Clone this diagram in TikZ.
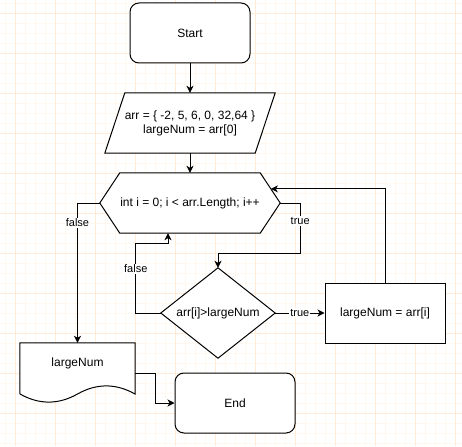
\documentclass[tikz,border=0pt]{standalone}
\usepackage{fontspec}
\setmainfont{Liberation Sans}
\usetikzlibrary{arrows.meta,calc}
\definecolor{gmajor}{RGB}{255,236,214}
\definecolor{gminor}{RGB}{255,248,238}
\begin{document}
\begin{tikzpicture}[x=1pt,y=-1pt,
  every node/.style={font=\fontsize{12}{14}\selectfont},
  shapebox/.style={minimum width=120pt, minimum height=60pt, inner sep=0pt, align=center},
  flow/.style={draw, line width=1pt, -{Stealth[length=7pt,width=7pt,inset=2pt]}},
  outline/.style={draw, line width=1pt},
  lbl/.style={fill=white, inner sep=1pt, font=\fontsize{11}{13}\selectfont}
]
\useasboundingbox (0,0) rectangle (462,446);
\fill[white] (0,0) rectangle (462,446);
% background grid
\foreach \x in {5,15,...,455} \draw[gminor, line width=0.4pt] (\x,0) -- (\x,446);
\foreach \y in {3,13,...,443} \draw[gminor, line width=0.4pt] (0,\y) -- (462,\y);
\foreach \x in {15,55,...,455} \draw[gmajor, line width=0.6pt] (\x,0) -- (\x,446);
\foreach \y in {13,53,...,413} \draw[gmajor, line width=0.6pt] (0,\y) -- (462,\y);

% nodes
\node[shapebox, outline, fill=white, rounded corners=9pt] (start) at (190,33) {Start};
\node[shapebox, minimum width=170pt] (para) at (190,123) {};
\draw[outline, fill=white] ([xshift=20pt]para.north west) -- (para.north east) -- ([xshift=-20pt]para.south east) -- (para.south west) -- cycle;
\node[align=center] (paratext) at (para.center) {arr = \{ -2, 5, 6, 0, 32,64 \}\\largeNum = arr[0]};

\node[shapebox, minimum width=180pt] (hex) at (190,203) {};
\draw[outline, fill=white] (hex.west) -- ([xshift=20pt]hex.north west) -- ([xshift=-20pt]hex.north east) -- (hex.east) -- ([xshift=-20pt]hex.south east) -- ([xshift=20pt]hex.south west) -- cycle;
\node (hextext) at (hex.center) {int i = 0; i < arr.Length; i++};

\node[shapebox, minimum width=114pt, minimum height=90pt] (dia) at (218,313) {};
\draw[outline, fill=white] (dia.north) -- (dia.east) -- (dia.south) -- (dia.west) -- cycle;
\node (diatext) at (dia.center) {arr[i]>largeNum};

\node[shapebox, outline, fill=white] (rect) at (385,313) {largeNum = arr[i]};

\node[shapebox, minimum width=115pt] (doc) at (77.5,373) {};
\draw[outline, fill=white] (doc.north west) -- (doc.north east) -- (135,394)
  .. controls (115.83,383.2) and (96.67,383.2) .. (77.5,394)
  .. controls (58.33,404.8) and (39.17,404.8) .. (20,394) -- cycle;
\node (doctext) at (77.5,363) {largeNum};

\node[shapebox, outline, fill=white, rounded corners=9pt] (end) at (235,403) {End};

% connectors
\draw[flow] (start.south) -- (para.north);
\draw[flow] (para.south) -- (hex.north);
\draw[flow] (hex.west) -| node[lbl, pos=0.571] {false} (doc.north);
\draw[flow] (hex.east) -- ++(20,0) -- node[lbl, pos=0.36] {true} ++(0,50) -| (dia.north);
\coordinate (hexup) at ([xshift=-22pt]hex.south);
\draw[flow] (dia.west) -- ++(-25,0) -- node[lbl, pos=0.63] {false} ++(0,-70) -| (hexup);
\draw[flow] (dia.east) -- node[lbl, midway] {true} (rect.west);
\coordinate (hexNE) at ([xshift=-20pt]hex.north east);
\coordinate (hexin) at ($(hexNE)!0.533!(hex.east)$);
\draw[flow] (rect.north) |- (hexin);
\draw[flow] (doc.east) -- ++(20,0) |- (end.west);
\end{tikzpicture}
\end{document}
